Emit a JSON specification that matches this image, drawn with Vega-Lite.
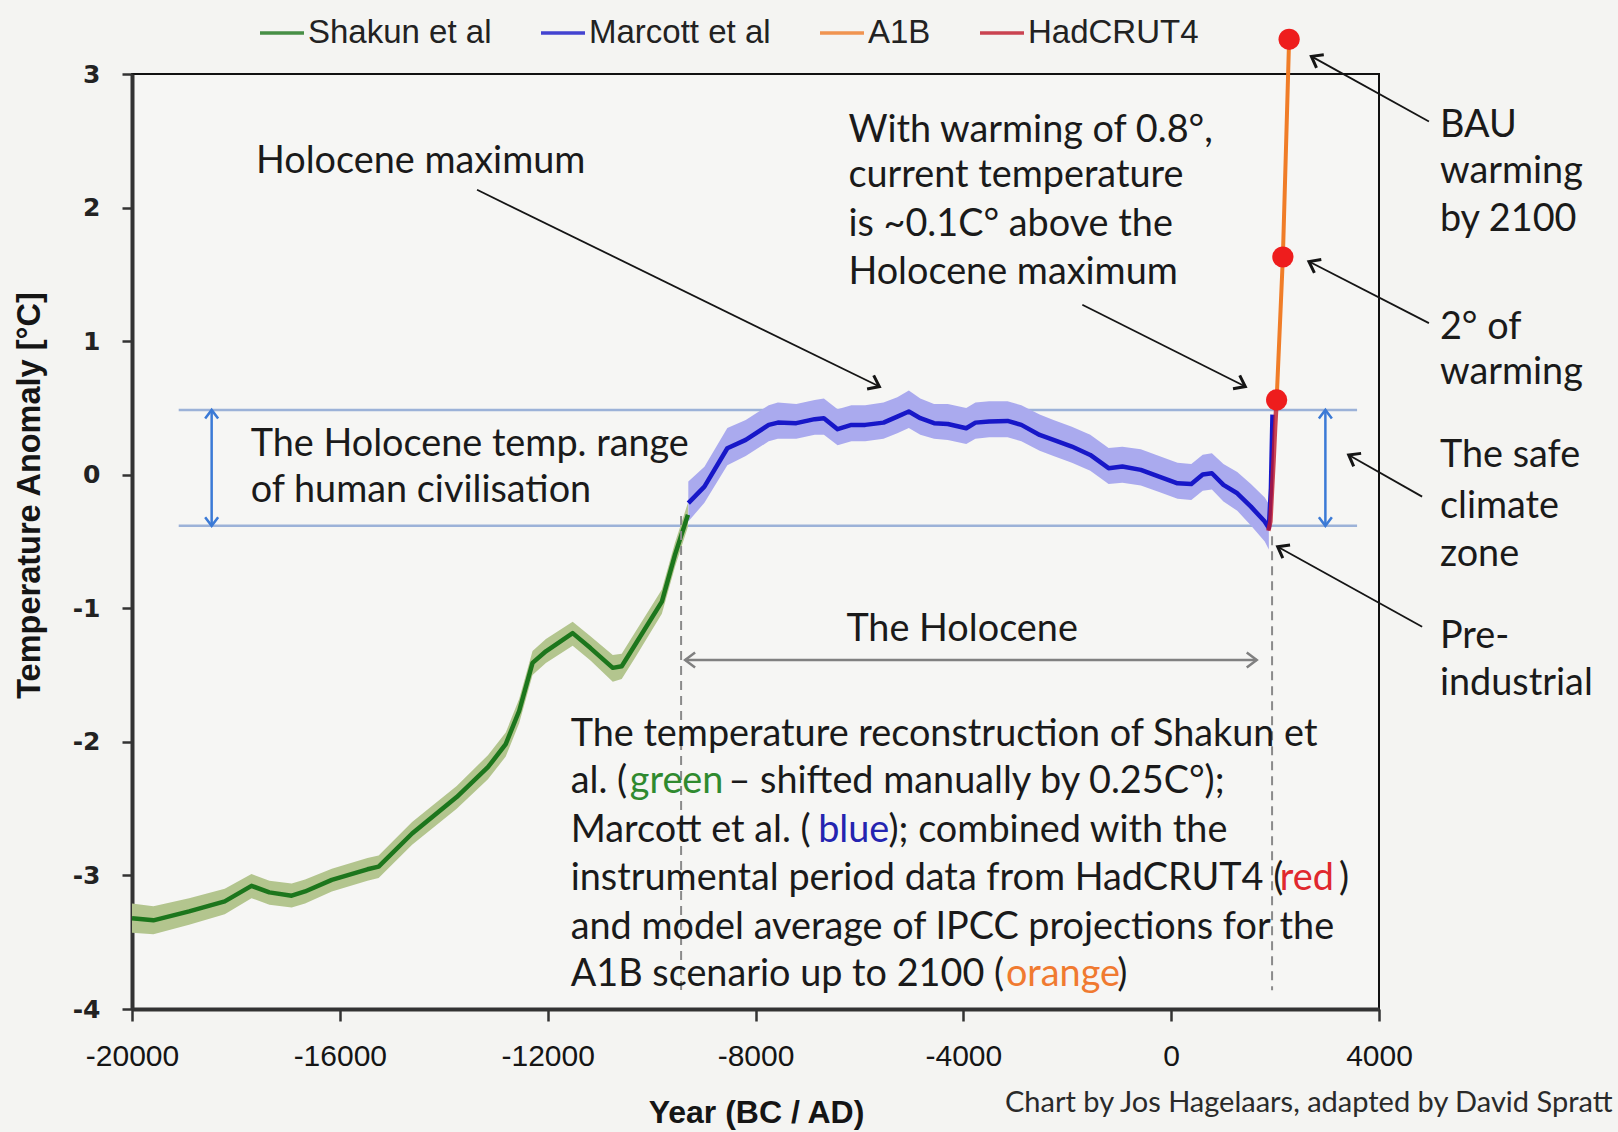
{
  "$schema": "https://vega.github.io/schema/vega-lite/v6.json",
  "width": 1247,
  "height": 935,
  "autosize": {"type": "none"},
  "padding": {"left": 132, "top": 74, "right": 239, "bottom": 123},
  "background": "#f4f4f2",
  "config": {
    "view": {"stroke": "#111111", "strokeWidth": 2, "fill": "#f6f6f4"},
    "font": "Lato"
  },
  "datasets": {
    "curves": [
      {"series": "Shakun et al", "year": -20000, "t": -3.32, "lo": -3.43, "hi": -3.21},
      {"series": "Shakun et al", "year": -19588, "t": -3.336, "lo": -3.44, "hi": -3.23},
      {"series": "Shakun et al", "year": -18901, "t": -3.269, "lo": -3.37, "hi": -3.17},
      {"series": "Shakun et al", "year": -18215, "t": -3.194, "lo": -3.29, "hi": -3.10},
      {"series": "Shakun et al", "year": -17700, "t": -3.078, "lo": -3.17, "hi": -2.99},
      {"series": "Shakun et al", "year": -17356, "t": -3.127, "lo": -3.22, "hi": -3.04},
      {"series": "Shakun et al", "year": -16927, "t": -3.152, "lo": -3.24, "hi": -3.06},
      {"series": "Shakun et al", "year": -16669, "t": -3.12, "lo": -3.21, "hi": -3.03},
      {"series": "Shakun et al", "year": -16154, "t": -3.033, "lo": -3.12, "hi": -2.95},
      {"series": "Shakun et al", "year": -15468, "t": -2.954, "lo": -3.04, "hi": -2.87},
      {"series": "Shakun et al", "year": -15253, "t": -2.934, "lo": -3.02, "hi": -2.85},
      {"series": "Shakun et al", "year": -14609, "t": -2.686, "lo": -2.77, "hi": -2.60},
      {"series": "Shakun et al", "year": -13751, "t": -2.413, "lo": -2.50, "hi": -2.33},
      {"series": "Shakun et al", "year": -13150, "t": -2.19, "lo": -2.28, "hi": -2.10},
      {"series": "Shakun et al", "year": -12807, "t": -2.017, "lo": -2.11, "hi": -1.93},
      {"series": "Shakun et al", "year": -12549, "t": -1.769, "lo": -1.86, "hi": -1.68},
      {"series": "Shakun et al", "year": -12291, "t": -1.409, "lo": -1.50, "hi": -1.32},
      {"series": "Shakun et al", "year": -12034, "t": -1.322, "lo": -1.41, "hi": -1.23},
      {"series": "Shakun et al", "year": -11519, "t": -1.186, "lo": -1.28, "hi": -1.10},
      {"series": "Shakun et al", "year": -11176, "t": -1.298, "lo": -1.39, "hi": -1.21},
      {"series": "Shakun et al", "year": -10747, "t": -1.446, "lo": -1.55, "hi": -1.35},
      {"series": "Shakun et al", "year": -10575, "t": -1.434, "lo": -1.53, "hi": -1.34},
      {"series": "Shakun et al", "year": -10317, "t": -1.273, "lo": -1.37, "hi": -1.18},
      {"series": "Shakun et al", "year": -9802, "t": -0.95, "lo": -1.04, "hi": -0.86},
      {"series": "Shakun et al", "year": -9550, "t": -0.6, "lo": -0.69, "hi": -0.51},
      {"series": "Shakun et al", "year": -9300, "t": -0.3, "lo": -0.39, "hi": -0.21},
      {"series": "Marcott et al", "year": -9293, "t": -0.213, "lo": -0.35, "hi": -0.05},
      {"series": "Marcott et al", "year": -8983, "t": -0.089, "lo": -0.21, "hi": 0.06},
      {"series": "Marcott et al", "year": -8542, "t": 0.198, "lo": 0.07, "hi": 0.35},
      {"series": "Marcott et al", "year": -8188, "t": 0.261, "lo": 0.14, "hi": 0.41},
      {"series": "Marcott et al", "year": -7745, "t": 0.373, "lo": 0.25, "hi": 0.52},
      {"series": "Marcott et al", "year": -7569, "t": 0.39, "lo": 0.27, "hi": 0.54},
      {"series": "Marcott et al", "year": -7215, "t": 0.386, "lo": 0.27, "hi": 0.53},
      {"series": "Marcott et al", "year": -6861, "t": 0.416, "lo": 0.3, "hi": 0.56},
      {"series": "Marcott et al", "year": -6684, "t": 0.423, "lo": 0.3, "hi": 0.57},
      {"series": "Marcott et al", "year": -6420, "t": 0.341, "lo": 0.22, "hi": 0.49},
      {"series": "Marcott et al", "year": -6154, "t": 0.373, "lo": 0.25, "hi": 0.52},
      {"series": "Marcott et al", "year": -5889, "t": 0.373, "lo": 0.25, "hi": 0.52},
      {"series": "Marcott et al", "year": -5536, "t": 0.39, "lo": 0.27, "hi": 0.54},
      {"series": "Marcott et al", "year": -5271, "t": 0.435, "lo": 0.31, "hi": 0.58},
      {"series": "Marcott et al", "year": -5049, "t": 0.473, "lo": 0.35, "hi": 0.63},
      {"series": "Marcott et al", "year": -4828, "t": 0.423, "lo": 0.3, "hi": 0.57},
      {"series": "Marcott et al", "year": -4564, "t": 0.386, "lo": 0.27, "hi": 0.53},
      {"series": "Marcott et al", "year": -4298, "t": 0.38, "lo": 0.26, "hi": 0.53},
      {"series": "Marcott et al", "year": -3944, "t": 0.348, "lo": 0.23, "hi": 0.5},
      {"series": "Marcott et al", "year": -3767, "t": 0.39, "lo": 0.27, "hi": 0.54},
      {"series": "Marcott et al", "year": -3503, "t": 0.398, "lo": 0.28, "hi": 0.55},
      {"series": "Marcott et al", "year": -3149, "t": 0.403, "lo": 0.28, "hi": 0.55},
      {"series": "Marcott et al", "year": -2883, "t": 0.373, "lo": 0.25, "hi": 0.52},
      {"series": "Marcott et al", "year": -2531, "t": 0.298, "lo": 0.18, "hi": 0.45},
      {"series": "Marcott et al", "year": -2265, "t": 0.261, "lo": 0.14, "hi": 0.41},
      {"series": "Marcott et al", "year": -1911, "t": 0.211, "lo": 0.09, "hi": 0.36},
      {"series": "Marcott et al", "year": -1557, "t": 0.148, "lo": 0.03, "hi": 0.3},
      {"series": "Marcott et al", "year": -1204, "t": 0.049, "lo": -0.07, "hi": 0.2},
      {"series": "Marcott et al", "year": -939, "t": 0.061, "lo": -0.06, "hi": 0.21},
      {"series": "Marcott et al", "year": -584, "t": 0.036, "lo": -0.08, "hi": 0.19},
      {"series": "Marcott et al", "year": -232, "t": -0.014, "lo": -0.13, "hi": 0.14},
      {"series": "Marcott et al", "year": 122, "t": -0.064, "lo": -0.18, "hi": 0.09},
      {"series": "Marcott et al", "year": 388, "t": -0.069, "lo": -0.19, "hi": 0.08},
      {"series": "Marcott et al", "year": 607, "t": 0.001, "lo": -0.12, "hi": 0.15},
      {"series": "Marcott et al", "year": 784, "t": 0.011, "lo": -0.11, "hi": 0.16},
      {"series": "Marcott et al", "year": 1006, "t": -0.076, "lo": -0.2, "hi": 0.08},
      {"series": "Marcott et al", "year": 1272, "t": -0.139, "lo": -0.27, "hi": 0.02},
      {"series": "Marcott et al", "year": 1535, "t": -0.239, "lo": -0.38, "hi": -0.07},
      {"series": "Marcott et al", "year": 1801, "t": -0.351, "lo": -0.5, "hi": -0.17},
      {"series": "Marcott et al", "year": 1880, "t": -0.4, "lo": -0.56, "hi": -0.22},
      {"series": "Marcott et al", "year": 1920, "t": -0.1},
      {"series": "Marcott et al", "year": 1950, "t": 0.45},
      {"series": "HadCRUT4", "year": 1870, "t": -0.42},
      {"series": "HadCRUT4", "year": 1910, "t": -0.35},
      {"series": "HadCRUT4", "year": 1940, "t": -0.12},
      {"series": "HadCRUT4", "year": 1970, "t": 0.1},
      {"series": "HadCRUT4", "year": 2000, "t": 0.35},
      {"series": "HadCRUT4", "year": 2030, "t": 0.56},
      {"series": "A1B", "year": 2030, "t": 0.56},
      {"series": "A1B", "year": 2150, "t": 1.63},
      {"series": "A1B", "year": 2270, "t": 3.26}
    ],
    "dots": [
      {"year": 2030, "t": 0.56},
      {"year": 2150, "t": 1.63},
      {"year": 2270, "t": 3.26}
    ],
    "range": [
      {"year": -19101, "year2": 3578, "t": 0.485},
      {"year": -19101, "year2": 3578, "t": -0.383}
    ],
    "dashed": [
      {"year": -9432, "t": -0.31, "t2": -3.86},
      {"year": 1942, "t": -0.46, "t2": -3.86}
    ],
    "spans": [
      {"year": -18467, "t": 0.47, "t2": -0.37},
      {"year": 2968, "t": 0.47, "t2": -0.37}
    ],
    "spanHeads": [
      {"year": -18467, "t": 0.485, "heading": 270},
      {"year": -18467, "t": -0.383, "heading": 90},
      {"year": 2968, "t": 0.485, "heading": 270},
      {"year": 2968, "t": -0.383, "heading": 90}
    ],
    "holo": [
      {"year": -9355, "year2": 1647, "t": -1.387}
    ],
    "holoHeads": [
      {"year": -9355, "t": -1.387, "heading": 180},
      {"year": 1647, "t": -1.387, "heading": 0}
    ],
    "pointers": [
      {"year": -13359, "t": 2.133, "year2": -5616, "t2": 0.66},
      {"year": -1710, "t": 1.272, "year2": 1427, "t2": 0.66},
      {"year": 4961, "t": 2.645, "year2": 2699, "t2": 3.132},
      {"year": 4961, "t": 1.135, "year2": 2652, "t2": 1.596},
      {"year": 4830, "t": -0.164, "year2": 3417, "t2": 0.148},
      {"year": 4830, "t": -1.138, "year2": 2050, "t2": -0.539}
    ],
    "pointerHeads": [
      {"year": -5616, "t": 0.66, "heading": 26},
      {"year": 1427, "t": 0.66, "heading": 26.6},
      {"year": 2699, "t": 3.132, "heading": 209},
      {"year": 2652, "t": 1.596, "heading": 207.3},
      {"year": 3417, "t": 0.148, "heading": 209.6},
      {"year": 2050, "t": -0.539, "heading": 209}
    ],
    "notes": [
      {"year": -17614, "t": 2.343, "text": "Holocene maximum", "tone": "black"},
      {"year": -6212, "t": 2.575, "text": "With warming of 0.8°,", "tone": "black"},
      {"year": -6212, "t": 2.234, "text": "current temperature", "tone": "black"},
      {"year": -6212, "t": 1.871, "text": "is ~0.1C° above the", "tone": "black"},
      {"year": -6212, "t": 1.508, "text": "Holocene maximum", "tone": "black"},
      {"year": -17715, "t": 0.225, "text": "The Holocene temp. range", "tone": "black"},
      {"year": -17715, "t": -0.123, "text": "of human civilisation", "tone": "black"},
      {"year": -6251, "t": -1.16, "text": "The Holocene", "tone": "black"},
      {"year": -11557, "t": -1.947, "text": "The temperature reconstruction of Shakun et", "tone": "black"},
      {"year": -11557, "t": -2.303, "text": "al. (", "tone": "black"},
      {"year": -10420, "t": -2.303, "text": "green", "tone": "green"},
      {"year": -8520, "t": -2.303, "text": "– shifted manually by 0.25C°);", "tone": "black"},
      {"year": -11557, "t": -2.666, "text": "Marcott et al. (", "tone": "black"},
      {"year": -6794, "t": -2.666, "text": "blue", "tone": "blue"},
      {"year": -5440, "t": -2.666, "text": "); combined with the", "tone": "black"},
      {"year": -11557, "t": -3.029, "text": "instrumental period data from HadCRUT4 (", "tone": "black"},
      {"year": 2090, "t": -3.029, "text": "red", "tone": "red"},
      {"year": 3230, "t": -3.029, "text": ")", "tone": "black"},
      {"year": -11557, "t": -3.393, "text": "and model average of IPCC projections for the", "tone": "black"},
      {"year": -11557, "t": -3.748, "text": "A1B scenario up to 2100 (", "tone": "black"},
      {"year": -3180, "t": -3.748, "text": "orange", "tone": "orange"},
      {"year": -1040, "t": -3.748, "text": ")", "tone": "black"},
      {"year": 5173, "t": 2.613, "text": "BAU", "tone": "black"},
      {"year": 5173, "t": 2.266, "text": "warming", "tone": "black"},
      {"year": 5173, "t": 1.91, "text": "by 2100", "tone": "black"},
      {"year": 5173, "t": 1.099, "text": "2° of", "tone": "black"},
      {"year": 5173, "t": 0.759, "text": "warming", "tone": "black"},
      {"year": 5173, "t": 0.14, "text": "The safe", "tone": "black"},
      {"year": 5173, "t": -0.239, "text": "climate", "tone": "black"},
      {"year": 5173, "t": -0.602, "text": "zone", "tone": "black"},
      {"year": 5173, "t": -1.213, "text": "Pre-", "tone": "black"},
      {"year": 5173, "t": -1.568, "text": "industrial", "tone": "black"}
    ],
    "credit": [
      {"year": 8494, "t": -4.706, "text": "Chart by Jos Hagelaars, adapted by David Spratt"}
    ]
  },
  "encoding": {
    "x": {
      "field": "year",
      "type": "quantitative",
      "scale": {"domain": [-20000, 4000], "nice": false, "zero": false},
      "axis": {
        "values": [-20000, -16000, -12000, -8000, -4000, 0, 4000],
        "labelExpr": "'' + datum.value",
        "labelFont": "Liberation Sans",
        "labelFontSize": 30,
        "labelColor": "#151515",
        "labelPadding": 20,
        "labelFlush": false,
        "tickSize": 12,
        "tickWidth": 2.5,
        "tickColor": "#333333",
        "domainColor": "#333333",
        "domainWidth": 4,
        "grid": false,
        "title": "Year (BC / AD)",
        "titleFont": "Liberation Sans",
        "titleFontWeight": "bold",
        "titleFontSize": 32,
        "titleColor": "#151515",
        "titleX": 624,
        "titleY": 103,
        "titleBaseline": "middle",
        "titleAlign": "center"
      }
    },
    "y": {
      "field": "t",
      "type": "quantitative",
      "scale": {"domain": [-4, 3], "nice": false, "zero": false},
      "axis": {
        "values": [-4, -3, -2, -1, 0, 1, 2, 3],
        "labelExpr": "'' + datum.value",
        "labelFont": "DejaVu Sans",
        "labelFontWeight": "bold",
        "labelFontSize": 25,
        "labelColor": "#222222",
        "labelPadding": 22,
        "tickSize": 10,
        "tickWidth": 2.5,
        "tickColor": "#333333",
        "domainColor": "#333333",
        "domainWidth": 4,
        "grid": false,
        "title": "Temperature Anomaly [°C]",
        "titleFont": "Liberation Sans",
        "titleFontWeight": "bold",
        "titleFontSize": 32.5,
        "titleColor": "#151515",
        "titleX": -103,
        "titleY": 421,
        "titleBaseline": "middle",
        "titleAlign": "center",
        "titleAngle": 270
      }
    }
  },
  "layer": [
    {
      "data": {"name": "range"},
      "mark": {"type": "rule", "color": "#9cb2d8", "strokeWidth": 2.5},
      "encoding": {"x2": {"field": "year2"}}
    },
    {
      "data": {"name": "curves"},
      "transform": [{"filter": "datum.series === 'Shakun et al' && datum.lo != null"}],
      "mark": {"type": "area", "color": "#b3c58e", "opacity": 1},
      "encoding": {
        "y": {"field": "lo", "type": "quantitative", "title": "Temperature Anomaly [°C]"},
        "y2": {"field": "hi"}
      }
    },
    {
      "data": {"name": "curves"},
      "transform": [{"filter": "datum.series === 'Marcott et al' && datum.lo != null"}],
      "mark": {"type": "area", "color": "#aaaaee", "opacity": 1},
      "encoding": {
        "y": {"field": "lo", "type": "quantitative", "title": "Temperature Anomaly [°C]"},
        "y2": {"field": "hi"}
      }
    },
    {
      "data": {"name": "curves"},
      "transform": [{"filter": "datum.series === 'Shakun et al' || datum.series === 'Marcott et al'"}],
      "mark": {"type": "line", "strokeWidth": 4.5, "strokeJoin": "round"},
      "encoding": {
        "stroke": {
          "field": "series",
          "type": "nominal",
          "scale": {
            "domain": ["Shakun et al", "Marcott et al", "A1B", "HadCRUT4"],
            "range": ["#1c761c", "#1717c8", "#f07d28", "#c0182a"]
          },
          "legend": {
            "orient": "none",
            "direction": "horizontal",
            "legendX": 126,
            "legendY": -65,
            "title": null,
            "padding": 0,
            "symbolType": "stroke",
            "symbolSize": 1936,
            "symbolStrokeWidth": 3.5,
            "labelFont": "Liberation Sans",
            "labelFontSize": 33,
            "labelColor": "#222222",
            "labelOffset": 2,
            "labelLimit": 400,
            "columnPadding": 42
          }
        }
      }
    },
    {
      "data": {"name": "curves"},
      "transform": [{"filter": "datum.series === 'HadCRUT4'"}],
      "mark": {"type": "line", "strokeWidth": 4.5, "opacity": 0.8},
      "encoding": {"stroke": {"field": "series", "type": "nominal"}}
    },
    {
      "data": {"name": "curves"},
      "transform": [{"filter": "datum.series === 'A1B'"}],
      "mark": {"type": "line", "strokeWidth": 4},
      "encoding": {"stroke": {"field": "series", "type": "nominal"}}
    },
    {
      "data": {"name": "dashed"},
      "mark": {"type": "rule", "color": "#8a8a8a", "strokeWidth": 2, "strokeDash": [9, 6]},
      "encoding": {"y2": {"field": "t2"}}
    },
    {
      "data": {"name": "spans"},
      "mark": {"type": "rule", "color": "#3b7ad6", "strokeWidth": 2.5},
      "encoding": {"y2": {"field": "t2"}}
    },
    {
      "data": {"name": "spanHeads"},
      "mark": {"type": "point", "shape": "M-1,-0.75L0,0L-1,0.75", "filled": false, "color": "#3b7ad6", "strokeWidth": 2.5, "size": 300, "opacity": 1},
      "encoding": {"angle": {"field": "heading", "type": "quantitative", "scale": null}}
    },
    {
      "data": {"name": "holo"},
      "mark": {"type": "rule", "color": "#808080", "strokeWidth": 2.5},
      "encoding": {"x2": {"field": "year2"}}
    },
    {
      "data": {"name": "holoHeads"},
      "mark": {"type": "point", "shape": "M-1,-0.75L0,0L-1,0.75", "filled": false, "color": "#808080", "strokeWidth": 2.5, "size": 400, "opacity": 1},
      "encoding": {"angle": {"field": "heading", "type": "quantitative", "scale": null}}
    },
    {
      "data": {"name": "pointers"},
      "mark": {"type": "rule", "color": "#151515", "strokeWidth": 1.8},
      "encoding": {"x2": {"field": "year2"}, "y2": {"field": "t2"}}
    },
    {
      "data": {"name": "pointerHeads"},
      "mark": {"type": "point", "shape": "M-1,-0.75L0,0L-1,0.75", "filled": false, "color": "#151515", "strokeWidth": 3, "size": 400, "opacity": 1},
      "encoding": {"angle": {"field": "heading", "type": "quantitative", "scale": null}}
    },
    {
      "data": {"name": "dots"},
      "mark": {"type": "circle", "color": "#ee1d1d", "size": 450, "opacity": 1}
    },
    {
      "data": {"name": "notes"},
      "mark": {"type": "text", "align": "left", "baseline": "middle", "font": "Lato", "fontSize": 37.8},
      "encoding": {
        "text": {"field": "text"},
        "color": {
          "field": "tone",
          "type": "nominal",
          "scale": {
            "domain": ["black", "green", "blue", "red", "orange"],
            "range": ["#1a1a1a", "#2f8a2f", "#2424b0", "#e0282e", "#f07a30"]
          },
          "legend": null
        }
      }
    },
    {
      "data": {"name": "credit"},
      "mark": {"type": "text", "align": "right", "baseline": "middle", "font": "Lato", "fontSize": 29, "color": "#2a2a2a"},
      "encoding": {"text": {"field": "text"}}
    }
  ]
}
